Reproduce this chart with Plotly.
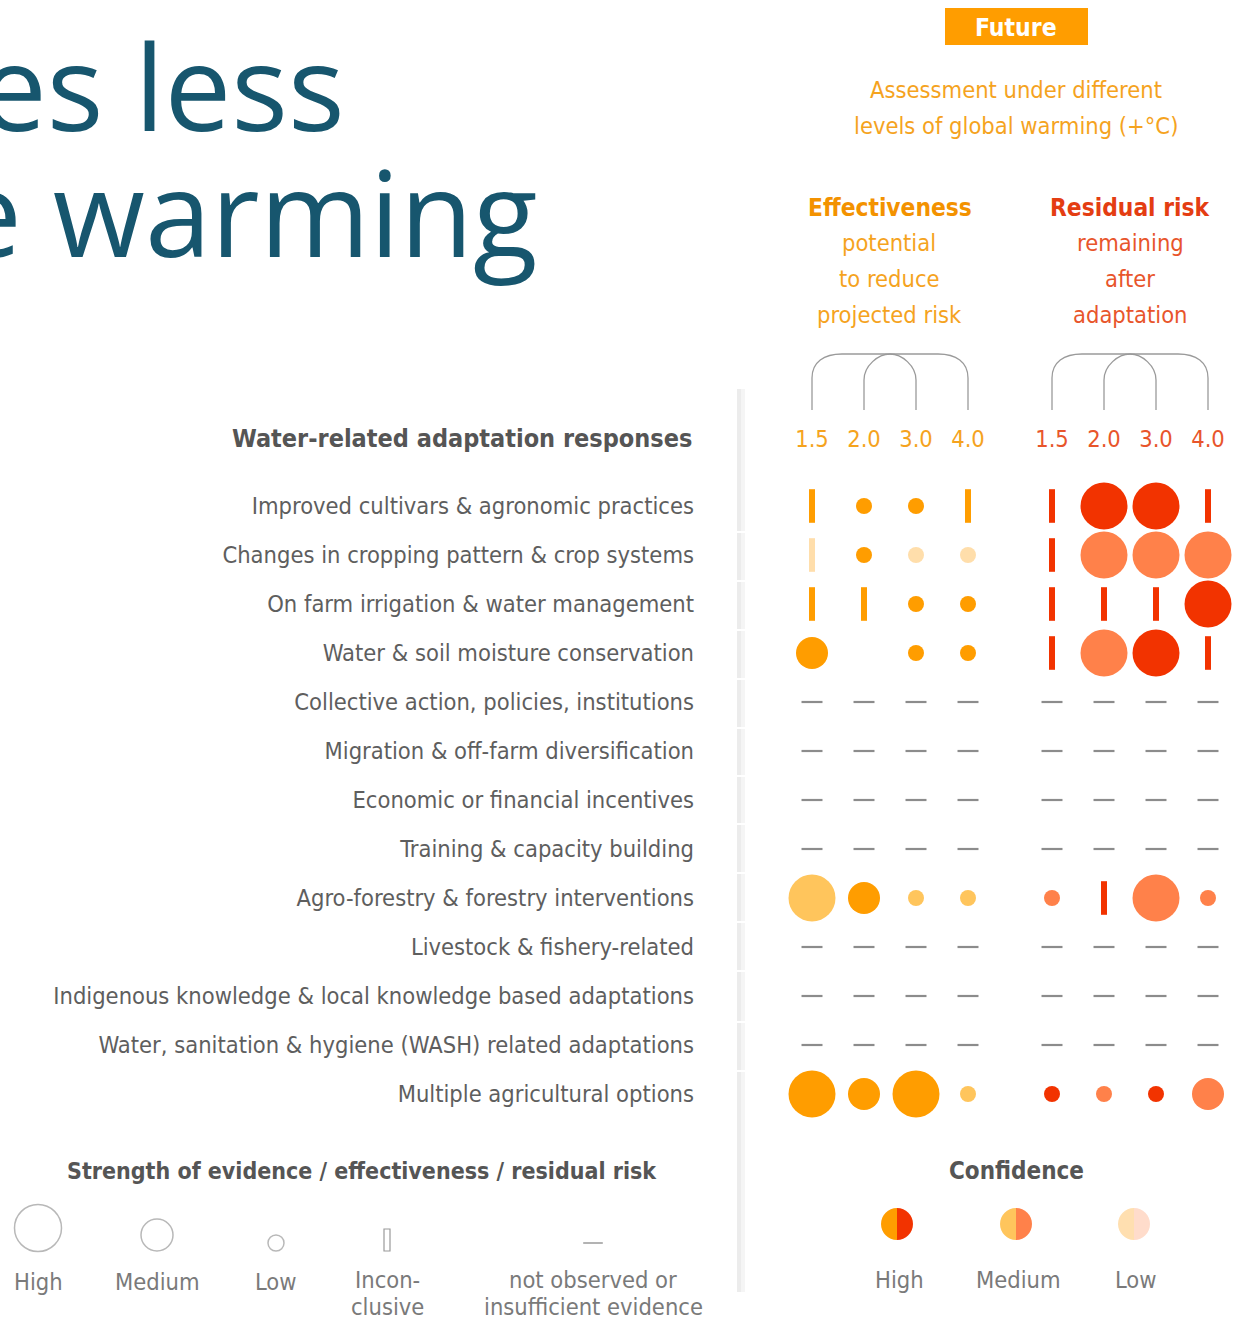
import plotly.graph_objects as go

W, H = 1250, 1321

# ---------------- data ----------------
temps = ["1.5", "2.0", "3.0", "4.0"]

rows = [
    "Improved cultivars & agronomic practices",
    "Changes in cropping pattern & crop systems",
    "On farm irrigation & water management",
    "Water & soil moisture conservation",
    "Collective action, policies, institutions",
    "Migration & off-farm diversification",
    "Economic or financial incentives",
    "Training & capacity building",
    "Agro-forestry & forestry interventions",
    "Livestock & fishery-related",
    "Indigenous knowledge & local knowledge based adaptations",
    "Water, sanitation & hygiene (WASH) related adaptations",
    "Multiple agricultural options",
]

# level: H high, M medium, L low, I inconclusive, - not observed, N blank
eff_level = [
    ["I", "L", "L", "I"],
    ["I", "L", "L", "L"],
    ["I", "I", "L", "L"],
    ["M", "N", "L", "L"],
    ["-", "-", "-", "-"],
    ["-", "-", "-", "-"],
    ["-", "-", "-", "-"],
    ["-", "-", "-", "-"],
    ["H", "M", "L", "L"],
    ["-", "-", "-", "-"],
    ["-", "-", "-", "-"],
    ["-", "-", "-", "-"],
    ["H", "M", "H", "L"],
]
eff_conf = [
    ["H", "H", "H", "H"],
    ["L", "H", "L", "L"],
    ["H", "H", "H", "H"],
    ["H", "H", "H", "H"],
    ["-", "-", "-", "-"],
    ["-", "-", "-", "-"],
    ["-", "-", "-", "-"],
    ["-", "-", "-", "-"],
    ["M", "H", "M", "M"],
    ["-", "-", "-", "-"],
    ["-", "-", "-", "-"],
    ["-", "-", "-", "-"],
    ["H", "H", "H", "M"],
]
res_level = [
    ["I", "H", "H", "I"],
    ["I", "H", "H", "H"],
    ["I", "I", "I", "H"],
    ["I", "H", "H", "I"],
    ["-", "-", "-", "-"],
    ["-", "-", "-", "-"],
    ["-", "-", "-", "-"],
    ["-", "-", "-", "-"],
    ["L", "I", "H", "L"],
    ["-", "-", "-", "-"],
    ["-", "-", "-", "-"],
    ["-", "-", "-", "-"],
    ["L", "L", "L", "M"],
]
res_conf = [
    ["H", "H", "H", "H"],
    ["H", "M", "M", "M"],
    ["H", "H", "H", "H"],
    ["H", "M", "H", "H"],
    ["-", "-", "-", "-"],
    ["-", "-", "-", "-"],
    ["-", "-", "-", "-"],
    ["-", "-", "-", "-"],
    ["M", "H", "M", "M"],
    ["-", "-", "-", "-"],
    ["-", "-", "-", "-"],
    ["-", "-", "-", "-"],
    ["H", "M", "H", "M"],
]

size_legend = ["High", "Medium", "Low", "Incon-<br>clusive", "not observed or<br>insufficient evidence"]
conf_legend = ["High", "Medium", "Low"]

# ---------------- styles ----------------
NARROW = "DejaVu Sans Condensed, Liberation Sans Narrow, Roboto, sans-serif"
FS = 23.5
SIZE = {"H": 47, "M": 32, "L": 16}
EFF_COL = {"H": "#FF9D00", "M": "#FFC55C", "L": "#FFDEAB"}
RES_COL = {"H": "#F23300", "M": "#FF814A", "L": "#FFDCC8"}
DASH_COL = "#8C8C8C"
LABEL_COL = "#5E5E5E"
HEAD_COL = "#555555"
LEG_COL = "#7A7A7A"
EFF_TXT = "#F5A31E"
EFF_BOLD = "#F39200"
RES_TXT = "#E8552B"
RES_BOLD = "#E43D12"

fig = go.Figure()


def add_panel(level, conf, colors, xref):
    groups = {}
    for i, row in enumerate(rows):
        for j, t in enumerate(temps):
            lv, cf = level[i][j], conf[i][j]
            if lv == "N":
                continue
            key = (lv, cf)
            groups.setdefault(key, ([], []))
            groups[key][0].append(t)
            groups[key][1].append(row)
    order = {"-": 0, "I": 1, "L": 2, "M": 3, "H": 4}
    for (lv, cf), (xs, ys) in sorted(groups.items(), key=lambda kv: order[kv[0][0]]):
        if lv == "-":
            marker = dict(symbol="line-ew", size=15, line=dict(color=DASH_COL, width=2.2))
        elif lv == "I":
            marker = dict(symbol="line-ns", size=24, line=dict(color=colors[cf], width=6))
        else:
            marker = dict(symbol="circle", size=SIZE[lv], color=colors[cf], line=dict(width=0))
        fig.add_trace(go.Scatter(x=xs, y=ys, mode="markers", marker=marker, xaxis=xref, yaxis="y",
                                 hoverinfo="skip", showlegend=False, cliponaxis=False))


add_panel(eff_level, eff_conf, EFF_COL, "x")
add_panel(res_level, res_conf, RES_COL, "x2")

shapes = []
annotations = []


def txt(x, y, s, size=FS, color=LABEL_COL, family=NARROW, bold=False, xanchor="center"):
    if bold:
        s = "<b>" + s + "</b>"
    annotations.append(dict(x=x, y=y, xref="x3", yref="y3", text=s, showarrow=False,
                            xanchor=xanchor, yanchor="middle",
                            font=dict(size=size, color=color, family=family)))


# ---- title fragment ----
txt(347, 85, "es less", size=119, color="#17566E", family="Open Sans", xanchor="right")
txt(540, 211, "e warming", size=119, color="#17566E", family="Open Sans", xanchor="right")

# ---- header ----
shapes.append(dict(type="rect", xref="x3", yref="y3", x0=945, x1=1088, y0=8, y1=45,
                   fillcolor="#FF9D00", line=dict(width=0)))
txt(1016, 27, "Future", size=24.5, color="white", bold=True)
txt(1016, 90, "Assessment under different", color=EFF_TXT)
txt(1016, 126, "levels of global warming (+°C)", color=EFF_TXT)

txt(890, 207, "Effectiveness", size=24.3, color=EFF_BOLD, bold=True)
for k, s in enumerate(["potential", "to reduce", "projected risk"]):
    txt(889, 243 + 36 * k, s, color=EFF_TXT)
txt(1130, 207, "Residual risk", size=24.3, color=RES_BOLD, bold=True)
for k, s in enumerate(["remaining", "after", "adaptation"]):
    txt(1130, 243 + 36 * k, s, color=RES_TXT)

txt(694, 438, "Water-related adaptation responses", size=25, color=HEAD_COL, bold=True, xanchor="right")


# ---- brackets ----
def bracket(x0):
    xs = [x0 + 52 * k for k in range(4)]
    a, b, c, d = xs
    big = (f"M{a},410 V378 C{a},362 {a+12},354 {a+30},354 H{d-30} "
           f"C{d-12},354 {d},362 {d},378 V410")
    r = (c - b) / 2
    m = (b + c) / 2
    small = (f"M{b},410 V380 C{b},{380-0.55*r} {m-0.45*r},354 {m},354 "
             f"C{m+0.45*r},354 {c},{380-0.55*r} {c},380 V410")
    for p in (big, small):
        shapes.append(dict(type="path", xref="x3", yref="y3", path=p,
                           line=dict(color="#9A9A9A", width=1.3)))


bracket(812)
bracket(1052)

# ---- grey separator band ----
band = [(389, 531), (533, 580), (582, 629), (631, 678), (680, 727), (729, 775), (777, 823),
        (825, 872), (874, 921), (923, 970), (972, 1021), (1023, 1070), (1072, 1292)]
for y0, y1 in band:
    shapes.append(dict(type="rect", xref="x3", yref="y3", x0=737, x1=741, y0=y0, y1=y1,
                       fillcolor="#ECECEC", line=dict(width=0), layer="below"))
    shapes.append(dict(type="rect", xref="x3", yref="y3", x0=741, x1=745, y0=y0, y1=y1,
                       fillcolor="#F5F5F5", line=dict(width=0), layer="below"))

# ---- size legend ----
txt(362, 1171, "Strength of evidence / effectiveness / residual risk", size=23, color=HEAD_COL, bold=True)
leg_x = [38, 157, 276, 387, 593]
leg_circ = [(38, 1228, 47), (157, 1235, 32), (276, 1243, 16)]
fig.add_trace(go.Scatter(x=[c[0] for c in leg_circ], y=[c[1] for c in leg_circ], mode="markers",
                         xaxis="x3", yaxis="y3", hoverinfo="skip", showlegend=False, cliponaxis=False,
                         marker=dict(symbol="circle-open", size=[c[2] for c in leg_circ],
                                     color="#9A9A9A", line=dict(width=1.5, color="#9A9A9A"))))
shapes.append(dict(type="rect", xref="x3", yref="y3", x0=384, x1=390, y0=1229, y1=1251,
                   line=dict(color="#9A9A9A", width=1.2)))
fig.add_trace(go.Scatter(x=[593], y=[1243], mode="markers", xaxis="x3", yaxis="y3",
                         hoverinfo="skip", showlegend=False, cliponaxis=False,
                         marker=dict(symbol="line-ew", size=14, line=dict(color="#9A9A9A", width=1.5))))
for x, s in zip(leg_x, size_legend):
    if "<br>" in s:
        a, b = s.split("<br>")
        txt(x, 1280, a, color=LEG_COL)
        txt(x, 1307, b, color=LEG_COL)
    else:
        txt(x, 1282, s, color=LEG_COL)

# ---- confidence legend ----
txt(1016, 1171, "Confidence", size=24, color=HEAD_COL, bold=True)
conf_x = [897, 1016, 1134]
conf_pairs = [("#FF9D00", "#F23300"), ("#FFC55C", "#FF814A"), ("#FFDFB0", "#FFDCCB")]
k = 0.5523
for cx, (lc, rc), s in zip(conf_x, conf_pairs, conf_legend):
    cy, r = 1224, 16
    left = (f"M{cx},{cy-r} C{cx-k*r},{cy-r} {cx-r},{cy-k*r} {cx-r},{cy} "
            f"C{cx-r},{cy+k*r} {cx-k*r},{cy+r} {cx},{cy+r} Z")
    right = (f"M{cx},{cy-r} C{cx+k*r},{cy-r} {cx+r},{cy-k*r} {cx+r},{cy} "
             f"C{cx+r},{cy+k*r} {cx+k*r},{cy+r} {cx},{cy+r} Z")
    shapes.append(dict(type="path", xref="x3", yref="y3", path=left, fillcolor=lc, line=dict(width=0)))
    shapes.append(dict(type="path", xref="x3", yref="y3", path=right, fillcolor=rc, line=dict(width=0)))
    txt(cx + 2, 1280, s, color=LEG_COL)

# ---------------- layout ----------------
ax_common = dict(type="category", categoryorder="array", categoryarray=temps, range=[-0.5, 3.5],
                 side="top", anchor="y", showgrid=False, zeroline=False, showline=False, ticks="",
                 ticklabelstandoff=29, fixedrange=True, automargin=False)
fig.update_layout(
    width=W, height=H, margin=dict(l=0, r=0, t=0, b=0, autoexpand=False),
    paper_bgcolor="white", plot_bgcolor="rgba(0,0,0,0)", showlegend=False,
    xaxis=dict(ax_common, domain=[786 / W, 994 / W],
               tickfont=dict(family=NARROW, size=FS, color=EFF_TXT)),
    xaxis2=dict(ax_common, domain=[1026 / W, 1234 / W],
                tickfont=dict(family=NARROW, size=FS, color=RES_TXT)),
    yaxis=dict(type="category", categoryorder="array", categoryarray=rows, range=[12.5, -0.5],
               domain=[1 - 1118.5 / H, 1 - 481.5 / H], anchor="x", showgrid=False, zeroline=False,
               showline=False, ticks="", ticklabelstandoff=91, fixedrange=True, automargin=False,
               tickfont=dict(family=NARROW, size=FS, color=LABEL_COL)),
    xaxis3=dict(domain=[0, 1], range=[0, W], visible=False, anchor="y3", fixedrange=True, automargin=False),
    yaxis3=dict(domain=[0, 1], range=[H, 0], visible=False, anchor="x3", fixedrange=True, automargin=False),
    shapes=shapes, annotations=annotations,
)

fig.write_html("out.html", post_script="document.body.style.margin='0';",
               config={"displayModeBar": False})
